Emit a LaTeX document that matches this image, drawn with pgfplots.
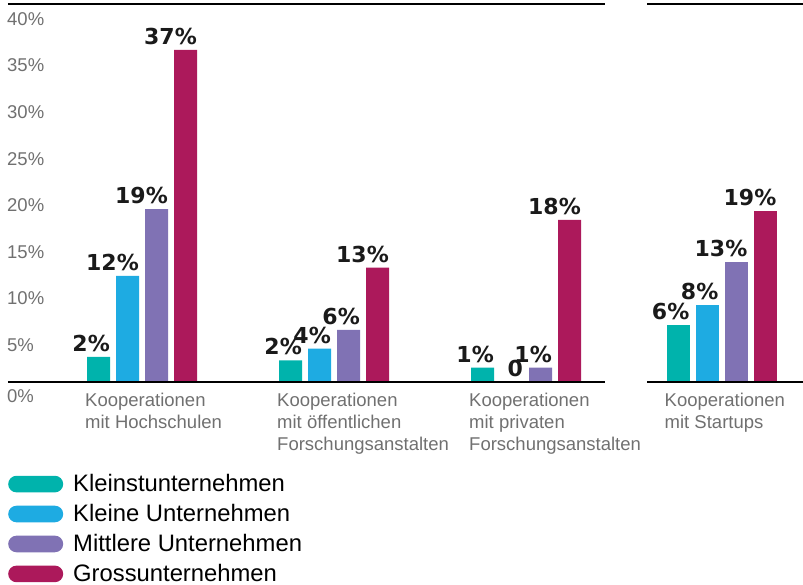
\documentclass[border=0pt]{standalone}
\usepackage{fontspec}
\setmainfont{Liberation Sans}
\newfontfamily\valfont{DejaVu Sans}
\usepackage{pgfplots}
\pgfplotsset{compat=1.18}
\definecolor{cTeal}{RGB}{0,179,172}
\definecolor{cBlue}{RGB}{30,171,226}
\definecolor{cPurple}{RGB}{128,114,180}
\definecolor{cMag}{RGB}{172,25,91}
\definecolor{cGray}{RGB}{112,112,112}
\definecolor{cText}{RGB}{26,26,26}
\pgfplotsset{
 pill/.style={legend image code/.code={\fill[##1, rounded corners=8.3pt] (0pt,-8.3pt) rectangle (55pt,8.3pt); \path (65pt,0pt);}},
 common/.style={
  x=192pt, y=9pt, ymin=0, ymax=42, clip=false,
  axis x line*=bottom, axis y line*=left, axis line style={draw=none},
  major tick length=0pt,
  ybar=6pt, bar width=23pt,
  nodes near coords, point meta=explicit symbolic,
  every node near coord/.append style={font=\valfont\bfseries\fontsize{22}{22}\selectfont, text=cText, anchor=south east, xshift=11.5pt, yshift=5pt, inner sep=0pt},
  xticklabel style={anchor=north west, align=left, xshift=-57pt, yshift=-11pt, inner sep=0pt, font=\fontsize{18.5}{22}\selectfont, text=cGray},
  yticklabel style={anchor=west, xshift=-1pt, inner sep=0pt, font=\fontsize{18.5}{22}\selectfont, text=cGray},
  every axis plot/.append style={draw=none},
 },
}
\begin{document}
\begin{tikzpicture}
\begin{axis}[common, at={(8pt,0pt)}, anchor=south west, xmin=-0.698, xmax=2.41,
 ytick={4.11,9.29,14.46,19.63,24.81,29.98,35.16,40.33},
 yticklabels={5\%,10\%,15\%,20\%,25\%,30\%,35\%,40\%},
 extra y ticks={0}, extra y tick labels={0\%},
 extra y tick style={yticklabel style={yshift=-14pt}},
 xtick={0,1,2},
 xticklabels={{Kooperationen\\mit Hochschulen},{Kooperationen\\mit öffentlichen\\Forschungsanstalten},{Kooperationen\\mit privaten\\Forschungsanstalten}},
 legend style={at={(0,0)}, anchor=north west, yshift=-92.5pt, draw=none, fill=none, inner sep=0pt, row sep=11.2pt, font=\fontsize{23.8}{23.8}\selectfont, nodes={inner sep=0pt}, cells={anchor=west}},
 legend cell align=left,
]
\addplot[fill=cTeal, pill] coordinates {(0,2.8) [2\%] (1,2.4) [2\%] (2,1.6) [1\%]};
\addplot[fill=cBlue, pill] coordinates {(0,11.8) [12\%] (1,3.7) [4\%] (2,0) [0]};
\addplot[fill=cPurple, pill] coordinates {(0,19.2) [19\%] (1,5.8) [6\%] (2,1.6) [1\%]};
\addplot[fill=cMag, pill] coordinates {(0,36.9) [37\%] (1,12.7) [13\%] (2,18.0) [18\%]};
\legend{Kleinstunternehmen,Kleine Unternehmen,Mittlere Unternehmen,Grossunternehmen}
\draw[line width=1.5pt, black] (rel axis cs:0,1) -- (rel axis cs:1,1);
\draw[line width=1.2pt, black] (rel axis cs:0,0) -- (rel axis cs:1,0);
\end{axis}
\begin{axis}[common, at={(647pt,0pt)}, anchor=south west, xmin=-0.388, xmax=0.424,
 ytick=\empty, xtick={0},
 xticklabels={{Kooperationen\\mit Startups}},
]
\addplot[fill=cTeal] coordinates {(0,6.3) [6\%]};
\addplot[fill=cBlue] coordinates {(0,8.6) [8\%]};
\addplot[fill=cPurple] coordinates {(0,13.3) [13\%]};
\addplot[fill=cMag] coordinates {(0,19.0) [19\%]};
\draw[line width=1.5pt, black] (rel axis cs:0,1) -- (rel axis cs:1,1);
\draw[line width=1.2pt, black] (rel axis cs:0,0) -- (rel axis cs:1,0);
\end{axis}
\pgfresetboundingbox
\path (0pt,-203pt) rectangle (803pt,382pt);
\end{tikzpicture}
\end{document}
